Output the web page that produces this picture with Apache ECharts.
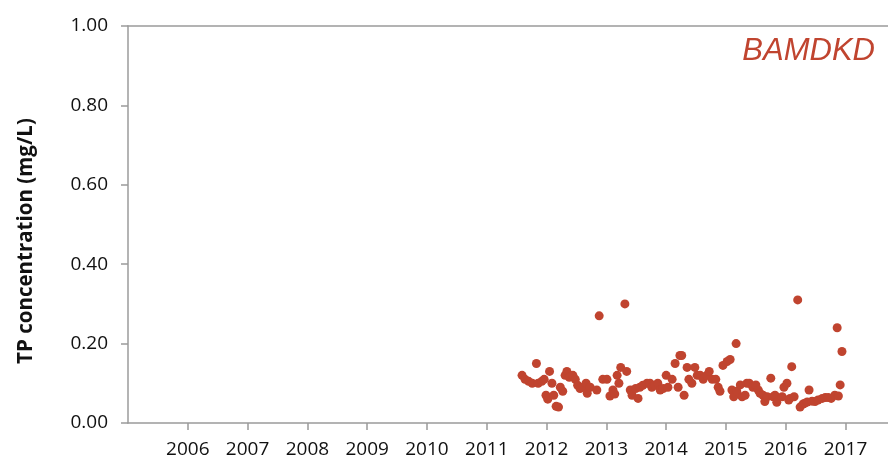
<!DOCTYPE html>
<html>
<head>
<meta charset="utf-8">
<script src="https://cdn.jsdelivr.net/npm/echarts@6/dist/echarts.min.js"></script>
<style>
  html, body { margin: 0; padding: 0; background: #fff; }
  #chart { width: 888px; height: 461px; }
</style>
</head>
<body>
<div id="chart"></div>
<script>
// Sampling dates as decimal years, and total phosphorus (mg/L) at site BAMDKD
var sampleYears = [
  2011.59, 2011.64, 2011.70, 2011.76, 2011.83, 2011.86, 2011.92, 2011.96, 2011.99, 2012.02,
  2012.05, 2012.09, 2012.12, 2012.16, 2012.20, 2012.23, 2012.27, 2012.31, 2012.34, 2012.38,
  2012.44, 2012.48, 2012.52, 2012.56, 2012.61, 2012.66, 2012.68, 2012.73, 2012.84, 2012.88,
  2012.94, 2013.01, 2013.06, 2013.11, 2013.14, 2013.18, 2013.21, 2013.24, 2013.31, 2013.34,
  2013.40, 2013.43, 2013.49, 2013.53, 2013.56, 2013.61, 2013.68, 2013.73, 2013.76, 2013.81,
  2013.86, 2013.90, 2013.95, 2014.00, 2014.03, 2014.10, 2014.15, 2014.20, 2014.23, 2014.26,
  2014.30, 2014.35, 2014.38, 2014.43, 2014.48, 2014.52, 2014.57, 2014.62, 2014.68, 2014.72,
  2014.77, 2014.83, 2014.87, 2014.90, 2014.95, 2015.02, 2015.07, 2015.10, 2015.13, 2015.17,
  2015.18, 2015.24, 2015.27, 2015.32, 2015.35, 2015.39, 2015.45, 2015.50, 2015.54, 2015.57,
  2015.62, 2015.65, 2015.69, 2015.75, 2015.79, 2015.82, 2015.85, 2015.94, 2015.97, 2016.02,
  2016.05, 2016.07, 2016.10, 2016.14, 2016.20, 2016.24, 2016.29, 2016.32, 2016.36, 2016.39,
  2016.44, 2016.49, 2016.54, 2016.61, 2016.66, 2016.71, 2016.76, 2016.82, 2016.86, 2016.88,
  2016.91, 2016.94
];
var tpValues = [
  0.120, 0.110, 0.105, 0.100, 0.150, 0.100, 0.105, 0.110, 0.070, 0.060,
  0.130, 0.100, 0.070, 0.042, 0.040, 0.090, 0.080, 0.120, 0.130, 0.115,
  0.120, 0.110, 0.095, 0.087, 0.090, 0.100, 0.075, 0.090, 0.083, 0.270,
  0.110, 0.110, 0.068, 0.083, 0.073, 0.120, 0.100, 0.140, 0.300, 0.130,
  0.083, 0.070, 0.087, 0.062, 0.090, 0.095, 0.100, 0.100, 0.090, 0.095,
  0.100, 0.083, 0.087, 0.120, 0.090, 0.110, 0.150, 0.090, 0.170, 0.170,
  0.070, 0.140, 0.110, 0.100, 0.140, 0.120, 0.120, 0.110, 0.120, 0.130,
  0.110, 0.110, 0.090, 0.080, 0.145, 0.155, 0.160, 0.083, 0.066, 0.200,
  0.080, 0.096, 0.066, 0.070, 0.100, 0.100, 0.090, 0.096, 0.083, 0.075,
  0.070, 0.054, 0.066, 0.113, 0.066, 0.070, 0.052, 0.066, 0.090, 0.100,
  0.058, 0.062, 0.142, 0.066, 0.310, 0.040, 0.048, 0.050, 0.053, 0.083,
  0.055, 0.054, 0.058, 0.062, 0.064, 0.064, 0.062, 0.070, 0.240, 0.068,
  0.096, 0.180
];
var siteName = 'BAMDKD';
var yAxisTitle = 'TP concentration (mg/L)';

var points = sampleYears.map(function (t, i) { return [t, tpValues[i]]; });

var red = '#c0442f';
var axisGray = '#9b9b9b';
var textFont = '"Open Sans", "Noto Sans", sans-serif';

var chart = echarts.init(document.getElementById('chart'), null, { renderer: 'canvas' });
chart.setOption({
  animation: false,
  backgroundColor: '#ffffff',
  title: {
    text: siteName,
    right: 8,
    top: 31,
    textStyle: {
      color: red,
      fontFamily: '"Liberation Sans", Arial, sans-serif',
      fontStyle: 'italic',
      fontWeight: 'normal',
      fontSize: 31
    }
  },
  grid: { left: 128, right: 0, top: 26, bottom: 38, containLabel: false },
  xAxis: [{
    type: 'value',
    min: 2005,
    max: 2017.71,
    interval: 1,
    position: 'bottom',
    axisLine: { show: true, onZero: false, lineStyle: { color: axisGray, width: 1.5 } },
    axisTick: { show: true, inside: false, length: 7, lineStyle: { color: axisGray, width: 1.5 } },
    splitLine: { show: false },
    axisLabel: {
      margin: 17,
      color: '#111',
      fontFamily: textFont,
      fontSize: 19,
      showMinLabel: false,
      showMaxLabel: false,
      formatter: function (v) {
        return (Math.abs(v - Math.round(v)) < 1e-6 && v > 2005) ? String(Math.round(v)) : '';
      }
    }
  }, {
    type: 'value',
    min: 2005,
    max: 2017.71,
    position: 'top',
    axisLine: { show: true, onZero: false, lineStyle: { color: axisGray, width: 1.5 } },
    axisTick: { show: false },
    axisLabel: { show: false },
    splitLine: { show: false }
  }],
  yAxis: {
    type: 'value',
    min: 0,
    max: 1,
    interval: 0.2,
    axisLine: { show: true, lineStyle: { color: axisGray, width: 1.5 } },
    axisTick: { show: true, inside: false, length: 7, lineStyle: { color: axisGray, width: 1.5 } },
    splitLine: { show: false },
    axisLabel: {
      margin: 20,
      color: '#111',
      fontFamily: textFont,
      fontSize: 19,
      formatter: function (v) { return v.toFixed(2); }
    }
  },
  graphic: [{
    type: 'text',
    x: 26,
    y: 241,
    rotation: Math.PI / 2,
    style: {
      text: yAxisTitle,
      fill: '#111',
      font: 'bold 20.5px "Open Sans", "Noto Sans", sans-serif',
      textAlign: 'center',
      textVerticalAlign: 'middle'
    }
  }],
  series: [{
    type: 'scatter',
    xAxisIndex: 0,
    data: points,
    symbol: 'circle',
    symbolSize: 9,
    itemStyle: { color: red, opacity: 1 }
  }]
});
</script>
</body>
</html>
